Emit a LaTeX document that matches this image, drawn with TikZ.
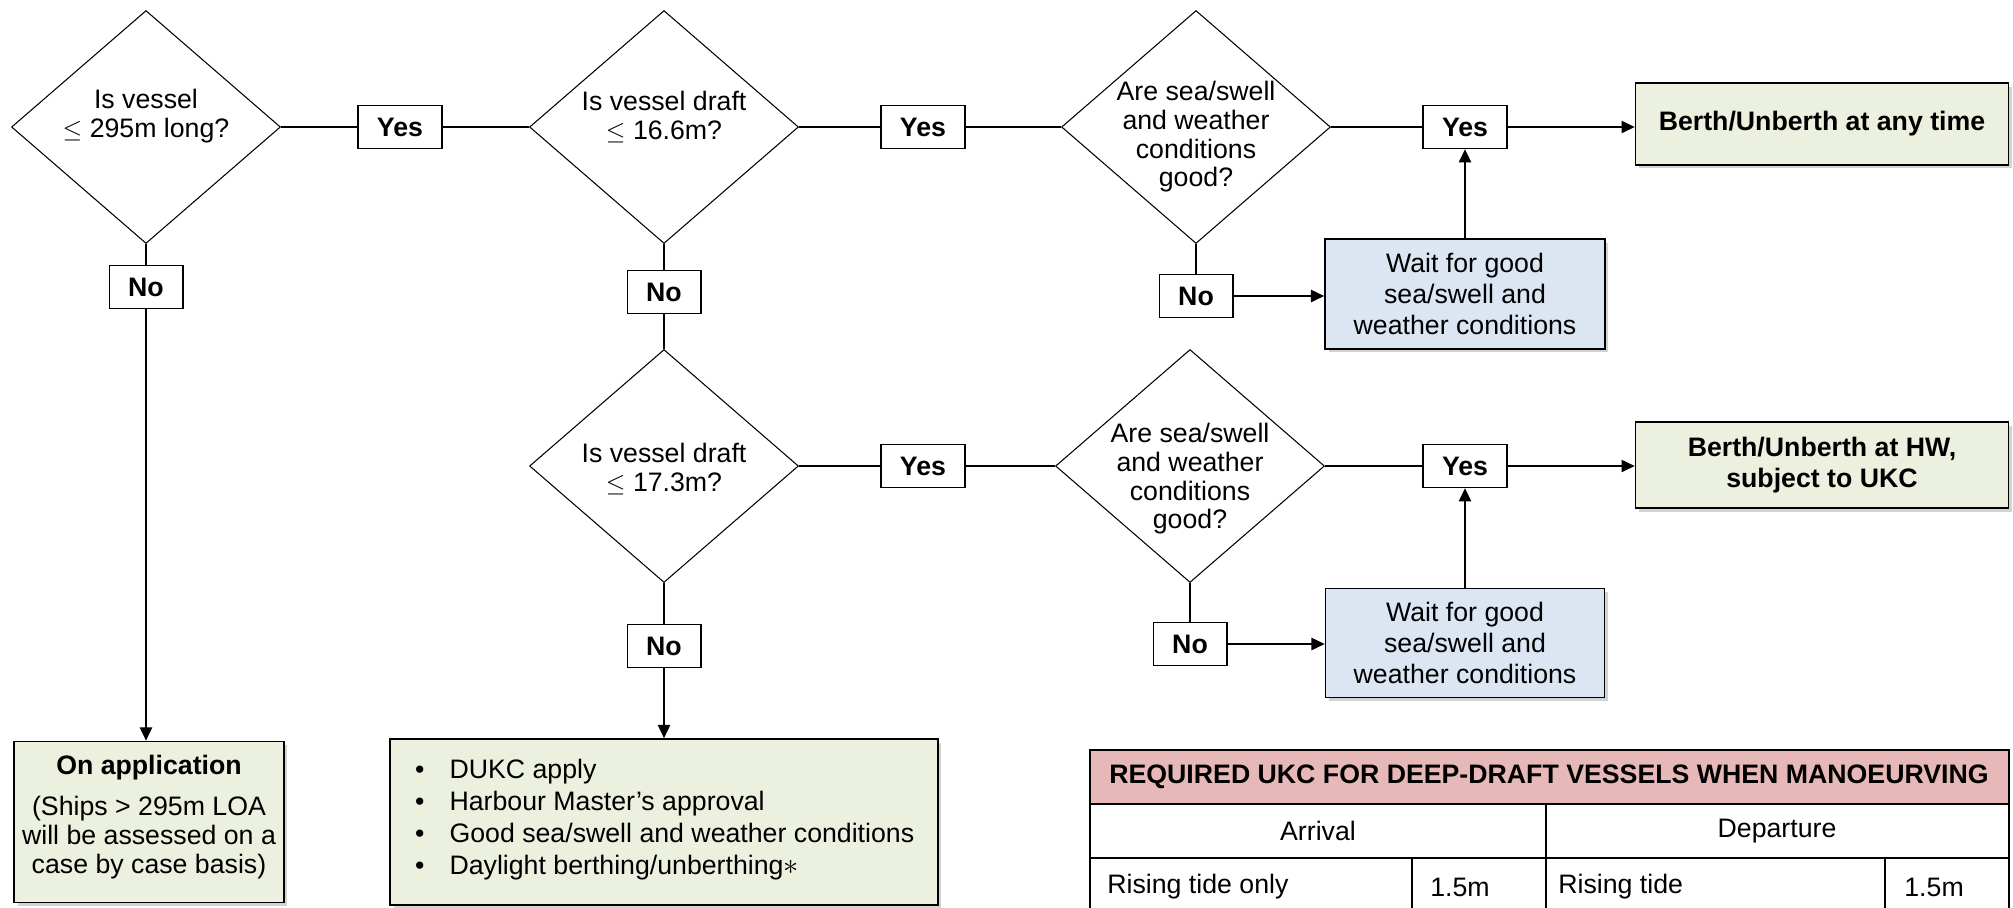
\documentclass[tikz,border=0pt]{standalone}
\usepackage{fontspec}
\setmainfont{Liberation Sans}
\usetikzlibrary{arrows.meta,shapes.geometric,shadows}

\definecolor{boxgreen}{HTML}{EBF1DE}
\definecolor{boxblue}{HTML}{DCE6F2}
\definecolor{headpink}{HTML}{E6B9B8}

\tikzset{
  base/.style={font=\fontsize{15.2}{17.5}\selectfont},
  decision/.style={diamond,draw,line width=0.6pt,minimum width=5.38cm,minimum height=4.66cm,inner sep=0pt},
  qtext/.style={base,align=center,font=\fontsize{15.2}{16.3}\selectfont},
  answer/.style={base,draw,line width=0.8pt,fill=white,inner xsep=0.38cm,inner ysep=0pt,minimum height=0.86cm,font=\fontsize{15.2}{17.5}\selectfont\bfseries},
  result/.style={base,draw,line width=1pt,fill=boxgreen,inner sep=0pt,align=center,
    drop shadow={opacity=0.35,shadow xshift=0.7mm,shadow yshift=-0.7mm}},
  waitbox/.style={result,fill=boxblue},
  link/.style={line width=0.8pt},
  cell/.style={base,inner sep=0pt}
}

\begin{document}
\begin{tikzpicture}[x=0.02cm,y=-0.02cm,>={Triangle[length=7.5pt,width=7pt]}]
  \useasboundingbox (0,0) rectangle (2013,907);

  % first row of questions
  \node[decision] (d1) at (146,127) {};
  \node[qtext] (q1) at (146,116) {Is vessel\\$\le$ 295m long?};
  \node[decision] (d2) at (664,127) {};
  \node[qtext] (q2) at (664,117) {Is vessel draft\\$\le$ 16.6m?};
  \node[decision] (d3) at (1196,127) {};
  \node[qtext] (q3) at (1196,137) {Are sea/swell\\and weather\\conditions\\good?};

  \node[answer] (y1) at (400,127) {Yes};
  \node[answer] (y2) at (923,127) {Yes};
  \node[answer] (y3) at (1465,127) {Yes};
  \node[answer] (n1) at (146,287) {No};
  \node[answer] (n2) at (664,292) {No};
  \node[answer] (n3) at (1196,296) {No};

  \node[result,minimum width=7.46cm,minimum height=1.64cm,font=\fontsize{15.2}{17.5}\selectfont\bfseries] (b1) at (1822,124) {Berth/Unberth at any time};
  \node[waitbox,minimum width=5.6cm,minimum height=2.2cm] (w1) at (1465,294) {Wait for good\\sea/swell and\\weather conditions};

  % second row of questions
  \node[decision] (d4) at (664,466) {};
  \node[qtext] (q4) at (664,469) {Is vessel draft\\$\le$ 17.3m?};
  \node[decision] (d5) at (1190,466) {};
  \node[qtext] (q5) at (1190,479) {Are sea/swell\\and weather\\conditions\\good?};

  \node[answer] (y4) at (923,466) {Yes};
  \node[answer] (y5) at (1465,466) {Yes};
  \node[answer] (n4) at (664,646) {No};
  \node[answer] (n5) at (1190,644) {No};

  \node[result,minimum width=7.46cm,minimum height=1.72cm,font=\fontsize{15.2}{17.5}\selectfont\bfseries] (b2) at (1822,465) {Berth/Unberth at HW,\\subject to UKC};
  \node[waitbox,minimum width=5.58cm,minimum height=2.18cm] (w2) at (1465,643) {Wait for good\\sea/swell and\\weather conditions};

  % outcomes at the bottom
  \node[result,minimum width=5.4cm,minimum height=3.22cm] (app) at (149,822) {};
  \node[base,font=\fontsize{15.2}{17.5}\selectfont\bfseries] (appt) at (149,768) {On application};
  \node[base,align=center,font=\fontsize{15.2}{16.5}\selectfont] (appb) at (149,838) {(Ships > 295m LOA\\will be assessed on a\\case by case basis)};

  \node[result,minimum width=10.96cm,minimum height=3.32cm] (dukc) at (664,822) {};
  \node[base,anchor=west,font=\fontsize{15.2}{18.2}\selectfont] (dukct) at (409,820) {%
    \begin{tabular}{@{}l@{\hspace{0.5cm}}l@{}}
      \textbullet & DUKC apply\\
      \textbullet & Harbour Master’s approval\\
      \textbullet & Good sea/swell and weather conditions\\
      \textbullet & Daylight berthing/unberthing\smash{\fontsize{19}{19}\selectfont$\ast$}
    \end{tabular}};

  % connectors
  \draw[link] (d1) -- (y1) -- (d2);
  \draw[link] (d2) -- (y2) -- (d3);
  \draw[link] (d3) -- (y3);
  \draw[link,->] (y3) -- (y3 -| b1.west);
  \draw[link] (d3) -- (n3);
  \draw[link,->] (n3) -- (n3 -| w1.west);
  \draw[link,->] (w1) -- (y3);

  \draw[link] (d1) -- (n1);
  \draw[link,->] (n1) -- (n1 |- app.north);
  \draw[link] (d2) -- (n2) -- (d4);

  \draw[link] (d4) -- (y4) -- (d5);
  \draw[link] (d5) -- (y5);
  \draw[link,->] (y5) -- (y5 -| b2.west);
  \draw[link] (d5) -- (n5);
  \draw[link,->] (n5) -- (n5 -| w2.west);
  \draw[link,->] (w2) -- (y5);
  \draw[link] (d4) -- (n4);
  \draw[link,->] (n4) -- (n4 |- dukc.north);

  % UKC table
  \draw[line width=0.9pt,fill=headpink] (1090,750) rectangle (2009,804);
  \draw[line width=0.9pt] (1090,804) -- (1090,912) (2009,804) -- (2009,912)
    (1090,858) -- (2009,858) (1546,804) -- (1546,912)
    (1412,858) -- (1412,912) (1885,858) -- (1885,912);
  \node[cell,font=\fontsize{15.2}{17.5}\selectfont\bfseries] (thead) at (1549,777) {REQUIRED UKC FOR DEEP-DRAFT VESSELS WHEN MANOEURVING};
  \node[cell] (tarr) at (1318,831) {Arrival};
  \node[cell] (tdep) at (1777,831) {Departure};
  \node[cell,anchor=west] (ra) at (1107,887) {Rising tide only};
  \node[cell,anchor=west] (rb) at (1430,887) {1.5m};
  \node[cell,anchor=west] (rc) at (1558,887) {Rising tide};
  \node[cell,anchor=west] (rd) at (1904,887) {1.5m};
\end{tikzpicture}
\end{document}
